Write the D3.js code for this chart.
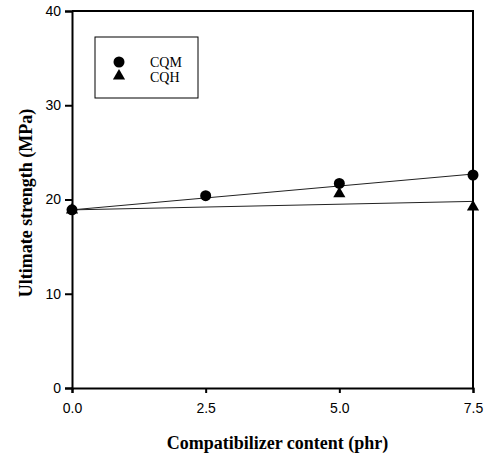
<!DOCTYPE html>
<html>
  <head>
    <meta charset="UTF-8">
    <style type="text/css">
      body { margin: 0; background: #fff; }
      .tick text { font-family: 'Liberation Sans', Arial, sans-serif; font-size: 14px; fill: #000; }
      .title { font-family: 'Liberation Serif', 'Times New Roman', serif; font-weight: bold; font-size: 18px; }
      .legend text { font-family: 'Liberation Serif', 'Times New Roman', serif; font-size: 14px; }
    </style>
  </head>
  <body>
    <div id="canvas"></div>
    <script src="https://cdnjs.cloudflare.com/ajax/libs/d3/7.8.5/d3.min.js"></script>
    <script type="text/javascript">
      // data
      var content = [0, 2.5, 5.0, 7.5];
      var cqm = [18.9, 20.4, 21.7, 22.6];
      var cqhX = [0, 5.0, 7.5];
      var cqh = [18.9, 20.6, 19.2];
      // fitted lines (end points)
      var fitX = [0, 7.5];
      var fitCQM = [18.9, 22.7];
      var fitCQH = [18.9, 19.8];
      var xTicks = [0, 2.5, 5.0, 7.5];
      var yTicks = [0, 10, 20, 30, 40];

      var W = 484, H = 459;
      var pLeft = 72, pRight = 473, pTop = 11, pBottom = 388;

      var svg = d3.select('#canvas').append('svg')
        .attr('width', W)
        .attr('height', H);

      var x = d3.scaleLinear().domain([0, 7.5]).range([pLeft, pRight]);
      var y = d3.scaleLinear().domain([0, 40]).range([pBottom, pTop]);

      // frame (top and right)
      svg.append('path')
        .attr('d', 'M' + pLeft + ',' + pTop + 'H' + pRight + 'V' + pBottom)
        .attr('fill', 'none')
        .attr('stroke', '#000')
        .attr('stroke-width', 2);

      var xAxis = svg.append('g')
        .attr('transform', 'translate(0,' + pBottom + ')')
        .call(d3.axisBottom(x).tickValues(xTicks).tickFormat(d3.format('.1f')).tickSize(5).tickPadding(10));
      var yAxis = svg.append('g')
        .attr('transform', 'translate(' + pLeft + ',0)')
        .call(d3.axisLeft(y).tickValues(yTicks).tickSize(7).tickPadding(4));
      [xAxis, yAxis].forEach(function (a) {
        a.select('.domain').attr('stroke-width', 2).attr('stroke', '#000');
        a.selectAll('.tick line').attr('stroke-width', 2).attr('stroke', '#000');
      });

      // fit lines
      var line = d3.line()
        .x(function (d) { return x(d[0]); })
        .y(function (d) { return y(d[1]); });
      [fitCQM, fitCQH].forEach(function (f) {
        svg.append('path')
          .datum(fitX.map(function (v, i) { return [v, f[i]]; }))
          .attr('d', line)
          .attr('fill', 'none')
          .attr('stroke', '#222')
          .attr('stroke-width', 1);
      });

      var tri = d3.symbol().type(d3.symbolTriangle).size(64);

      svg.selectAll('path.cqh')
        .data(cqhX.map(function (v, i) { return [v, cqh[i]]; }))
        .enter().append('path')
        .attr('class', 'cqh')
        .attr('d', tri)
        .attr('transform', function (d) { return 'translate(' + x(d[0]) + ',' + y(d[1]) + ')'; })
        .attr('fill', '#000');

      svg.selectAll('circle.cqm')
        .data(content.map(function (v, i) { return [v, cqm[i]]; }))
        .enter().append('circle')
        .attr('class', 'cqm')
        .attr('cx', function (d) { return x(d[0]); })
        .attr('cy', function (d) { return y(d[1]); })
        .attr('r', 5.5)
        .attr('fill', '#000');

      // legend
      var lg = svg.append('g').attr('class', 'legend');
      lg.append('rect')
        .attr('x', 95).attr('y', 37).attr('width', 103).attr('height', 61)
        .attr('fill', '#fff').attr('stroke', '#000').attr('stroke-width', 1);
      lg.append('circle').attr('cx', 119).attr('cy', 62).attr('r', 5.5).attr('fill', '#000');
      lg.append('path').attr('d', tri).attr('transform', 'translate(119,76)').attr('fill', '#000');
      lg.append('text').attr('x', 150).attr('y', 67).text('CQM');
      lg.append('text').attr('x', 150).attr('y', 82).text('CQH');

      // axis titles
      svg.append('text')
        .attr('class', 'title')
        .attr('x', (pLeft + pRight) / 2 + 5)
        .attr('y', 449)
        .attr('text-anchor', 'middle')
        .text('Compatibilizer content (phr)');
      svg.append('text')
        .attr('class', 'title')
        .attr('transform', 'translate(32,' + 203 + ') rotate(-90)')
        .attr('text-anchor', 'middle')
        .text('Ultimate strength (MPa)');
    </script>
  </body>
</html>
